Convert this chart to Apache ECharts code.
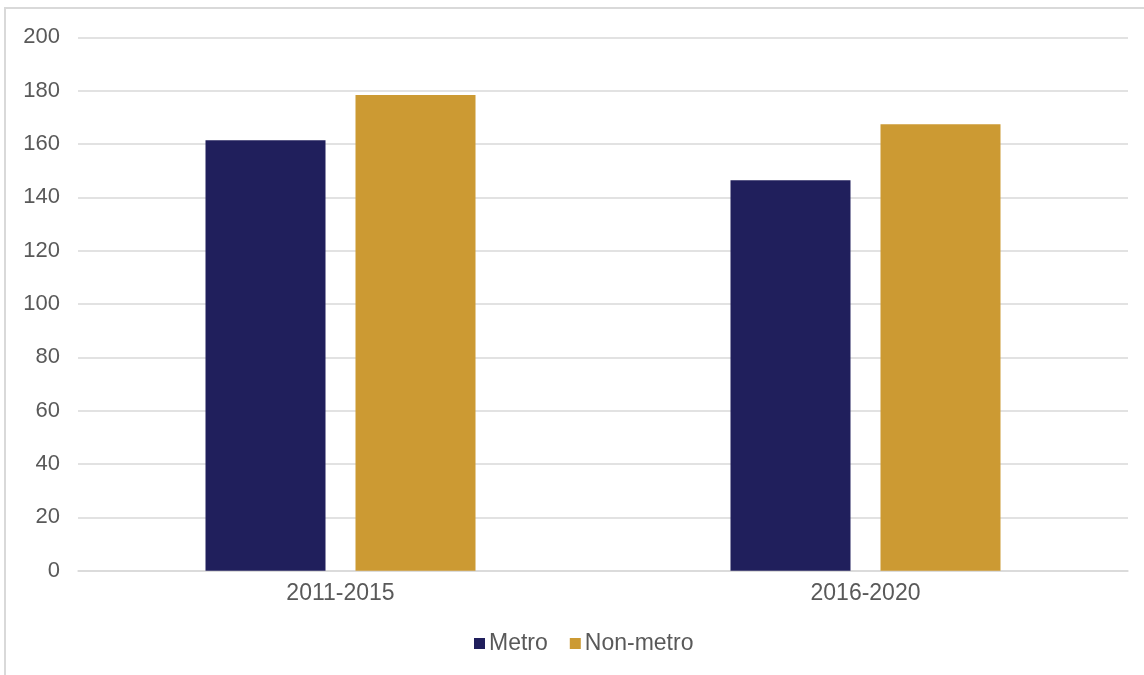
<!DOCTYPE html>
<html>
<head>
<meta charset="utf-8">
<script src="https://cdn.jsdelivr.net/npm/echarts@6/dist/echarts.min.js"></script>
<style>
  html, body { margin: 0; padding: 0; background: #ffffff; }
  #frame { position: absolute; left: 4px; top: 7px; width: 1140px; height: 668px;
           border-top: 2px solid #d9d9d9; border-left: 2px solid #d9d9d9; box-sizing: border-box; }
  #chart { position: absolute; left: 0; top: 0; width: 1144px; height: 675px; }
</style>
</head>
<body>
<div id="frame"></div>
<div id="chart"></div>
<script>
const categories = ['2011-2015', '2016-2020'];
const seriesNames = ['Metro', 'Non-metro'];
const metroValues = [161.4, 146.4];
const nonMetroValues = [178.4, 167.4];
const yTicks = [0, 20, 40, 60, 80, 100, 120, 140, 160, 180, 200];

const chart = echarts.init(document.getElementById('chart'), null, { renderer: 'canvas' });
const font = 'Liberation Sans, Arial, sans-serif';
chart.setOption({
  animation: false,
  backgroundColor: 'transparent',
  grid: { left: 78, right: 16, top: 37.3, bottom: 104.3, containLabel: false },
  legend: {
    data: seriesNames,
    left: 474, top: 632, padding: 0,
    icon: 'rect', itemWidth: 11, itemHeight: 11, itemGap: 22,
    textStyle: { fontFamily: font, fontSize: 23, color: '#595959', padding: [0, 0, 0, -1] }
  },
  xAxis: {
    type: 'category',
    data: categories,
    axisLine: { show: true, lineStyle: { color: '#d9d9d9', width: 1.5 } },
    axisTick: { show: false },
    axisLabel: { fontFamily: font, fontSize: 23, color: '#595959', margin: 11 }
  },
  yAxis: {
    type: 'value',
    min: yTicks[0], max: yTicks[yTicks.length - 1], interval: 20,
    axisLine: { show: false },
    axisTick: { show: false },
    splitLine: { lineStyle: { color: '#d9d9d9', width: 1.5 } },
    axisLabel: { fontFamily: font, fontSize: 22, color: '#595959', margin: 18 }
  },
  series: [
    { name: seriesNames[0], type: 'bar', data: metroValues, barWidth: 120, barGap: '25%',
      itemStyle: { color: '#201f5c' } },
    { name: seriesNames[1], type: 'bar', data: nonMetroValues, barWidth: 120, barGap: '25%',
      itemStyle: { color: '#cc9a33' } }
  ]
});
</script>
</body>
</html>
